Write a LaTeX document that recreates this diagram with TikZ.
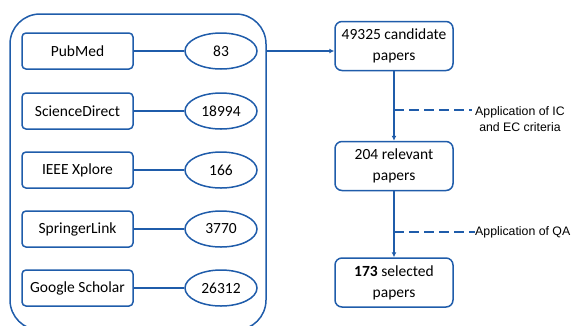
\documentclass[tikz,border=0pt]{standalone}
\usepackage{fontspec}
\setmainfont{Carlito}
\newfontfamily\arialfont{Liberation Sans}
\usetikzlibrary{arrows.meta,shapes.geometric}
\definecolor{lineblue}{RGB}{31,92,170}
\tikzset{
  x=1pt,y=-1pt,
  ln/.style={draw=lineblue,line width=1.5pt},
  srcbox/.style={ln,rounded corners=4pt,minimum width=111pt,minimum height=36pt,inner sep=0pt,font=\fontsize{15.5}{17}\selectfont},
  countell/.style={ln,ellipse,minimum width=72pt,minimum height=36pt,inner sep=0pt,font=\fontsize{15.5}{17}\selectfont},
  flowbox/.style={ln,rounded corners=7pt,minimum width=118pt,minimum height=49pt,inner sep=0pt,align=center,font=\fontsize{15.5}{21}\selectfont},
  arr/.style={ln,-{Latex[length=5pt,width=5pt]}},
  dashln/.style={ln,dash pattern=on 10pt off 5pt},
  note/.style={font=\arialfont\fontsize{12.3}{15.5}\selectfont,align=center,inner sep=0pt}
}
\begin{document}
\begin{tikzpicture}
\useasboundingbox (0,0) rectangle (580,325);
% container
\draw[ln,rounded corners=30pt] (10,14) rectangle (266,330);
\coordinate (contR) at (266,51);
% sources
\node[srcbox] (pubmed) at (77.5,51) {PubMed};
\node[srcbox] (sd) at (77.5,111) {ScienceDirect};
\node[srcbox] (ieee) at (77.5,170) {IEEE Xplore};
\node[srcbox] (spr) at (77.5,229) {SpringerLink};
\node[srcbox] (gs) at (77.5,288) {Google Scholar};
\node[countell] (c1) at (221,51) {83};
\node[countell] (c2) at (221,111) {18994};
\node[countell] (c3) at (221,170) {166};
\node[countell] (c4) at (221,229) {3770};
\node[countell] (c5) at (221,288) {26312};
\draw[ln] (pubmed) -- (c1);
\draw[ln] (sd) -- (c2);
\draw[ln] (ieee) -- (c3);
\draw[ln] (spr) -- (c4);
\draw[ln] (gs) -- (c5);
% flow
\node[flowbox] (cand) at (394,46) {49325 candidate\\papers};
\node[flowbox] (rel) at (394,166) {204 relevant\\papers};
\node[flowbox] (sel) at (394,282.5) {\textbf{173} selected\\papers};
\draw[arr] (contR) -- (cand.west |- contR);
\draw[arr] (cand) -- (rel);
\draw[arr] (rel) -- (sel);
\coordinate (d1) at (394,110);
\coordinate (d2) at (394,232);
\node[note,anchor=west] (n1) at (475,119) {Application of IC\\and EC criteria};
\node[note,anchor=west] (n2) at (475,232) {Application of QA};
\draw[dashln] (d1) -- (472,110);
\draw[dashln] (d2) -- (n2.west);
\end{tikzpicture}
\end{document}
